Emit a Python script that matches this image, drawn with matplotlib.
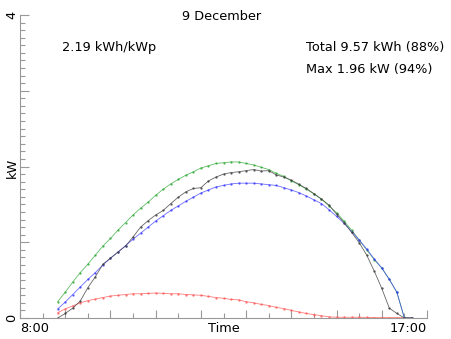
import numpy as np
import matplotlib
matplotlib.use('Agg')
import matplotlib.pyplot as plt

# 10-minute samples, 8:50 .. 16:40
times = [8 + 50/60 + i/6 for i in range(48)]

# clear-sky estimate (green)
clearSky = [0.215, 0.34, 0.475, 0.60, 0.71, 0.83, 0.95, 1.05, 1.16, 1.26,
            1.36, 1.45, 1.53, 1.62, 1.70, 1.77, 1.83, 1.885, 1.93, 1.98,
            2.01, 2.04, 2.05, 2.06, 2.06, 2.04, 2.02, 1.99, 1.96, 1.91,
            1.87, 1.81, 1.76, 1.70, 1.64, 1.57, 1.48, 1.39, 1.28, 1.16,
            1.03, 0.90, 0.77, 0.66, 0.51, 0.34, 0.0, 0.0]

# model estimate (blue)
model = [0.12, 0.21, 0.31, 0.41, 0.51, 0.60, 0.70, 0.79, 0.87, 0.955,
         1.04, 1.12, 1.20, 1.28, 1.35, 1.42, 1.48, 1.54, 1.595, 1.65,
         1.69, 1.73, 1.75, 1.77, 1.78, 1.78, 1.78, 1.77, 1.76, 1.75,
         1.72, 1.69, 1.655, 1.61, 1.56, 1.51, 1.43, 1.34, 1.25, 1.14,
         1.03, 0.91, 0.78, 0.66, 0.51, 0.34, 0.0, 0.0]

# measured output (black)
measured = [0.0, 0.06, 0.13, 0.225, 0.40, 0.545, 0.71, 0.79, 0.87, 0.95,
            1.07, 1.20, 1.285, 1.36, 1.42, 1.51, 1.595, 1.665, 1.71, 1.72,
            1.81, 1.86, 1.90, 1.92, 1.93, 1.945, 1.96, 1.94, 1.945, 1.89,
            1.86, 1.82, 1.765, 1.71, 1.64, 1.57, 1.49, 1.37, 1.26, 1.13,
            0.995, 0.83, 0.62, 0.39, 0.13, 0.06, 0.0, 0.0]

# diffuse part (red)
diffuse = [0.07, 0.12, 0.16, 0.20, 0.23, 0.25, 0.27, 0.29, 0.30, 0.31,
           0.32, 0.32, 0.325, 0.33, 0.325, 0.32, 0.32, 0.31, 0.305, 0.30,
           0.285, 0.27, 0.26, 0.245, 0.24, 0.215, 0.20, 0.18, 0.165, 0.14,
           0.125, 0.10, 0.08, 0.06, 0.045, 0.03, 0.015, 0.01, 0.01, 0.01,
           0.01, 0.008, 0.005, 0.005, 0.005, 0.005, 0.003, 0.0]

dayTitle = '9 December'
yieldText = '2.19 kWh/kWp'
totalText = 'Total 9.57 kWh (88%)'
maxText = 'Max 1.96 kW (94%)'

fs = 9.3

fig = plt.figure(figsize=(4.52, 3.39), dpi=100)
ax = fig.add_axes([20/452, 1 - 318/339, 407/452, 303/339])

lw = 0.6
ms = 1.4
ax.plot(times, diffuse, color='#ff5c5c', lw=lw, marker='.', ms=ms, alpha=0.8)
ax.plot(times, clearSky, color='#2ea836', lw=lw, marker='.', ms=ms, alpha=0.75)
ax.plot(times, model, color='#3030ff', lw=lw, marker='.', ms=ms, alpha=0.7)
ax.plot(times, measured, color='#404040', lw=lw, marker='.', ms=ms, alpha=0.8)

ax.set_xlim(8, 17)
ax.set_ylim(0, 4)

for s in ['top', 'right']:
    ax.spines[s].set_visible(False)
for s in ['left', 'bottom']:
    ax.spines[s].set_color('#999999')
    ax.spines[s].set_linewidth(0.8)

ax.set_xticks(np.arange(8, 17.01, 1))
ax.set_xticks(np.arange(8.5, 17, 1), minor=True)
xlabels = [''] * 10
xlabels[0] = '8:00'
xlabels[-1] = '17:00'
ax.set_xticklabels(xlabels, fontsize=fs)
tl = ax.get_xticklabels()
tl[0].set_horizontalalignment('left')
tl[-1].set_horizontalalignment('right')

ax.set_yticks(np.arange(0, 4.01, 1))
ax.set_yticks(np.arange(0, 4.01, 0.1), minor=True)
ax.set_yticklabels(['0', '', '', '', '4'], fontsize=fs, rotation=90, va='center')

ax.tick_params(which='both', direction='in', color='#999999', width=0.8)
ax.tick_params(axis='x', which='major', length=5.5, pad=3)
ax.tick_params(axis='x', which='minor', length=3.5)
ax.tick_params(axis='y', which='major', length=6.5, pad=1.5)
ax.tick_params(axis='y', which='minor', length=3.5)

ax.set_xlabel('Time', fontsize=fs)
ax.xaxis.set_label_coords(0.5, -0.012)
fig.text(12/452, 1 - 168/339, 'kW', fontsize=fs, rotation=90, ha='center', va='center')

fig.text(222/452, 1 - 17/339, dayTitle, fontsize=fs, ha='center', va='center')
fig.text(62/452, 1 - 48/339, yieldText, fontsize=fs, ha='left', va='center')
fig.text(306/452, 1 - 47/339, totalText, fontsize=fs, ha='left', va='center')
fig.text(306/452, 1 - 70/339, maxText, fontsize=fs, ha='left', va='center')

fig.savefig('out.png', dpi=100)
